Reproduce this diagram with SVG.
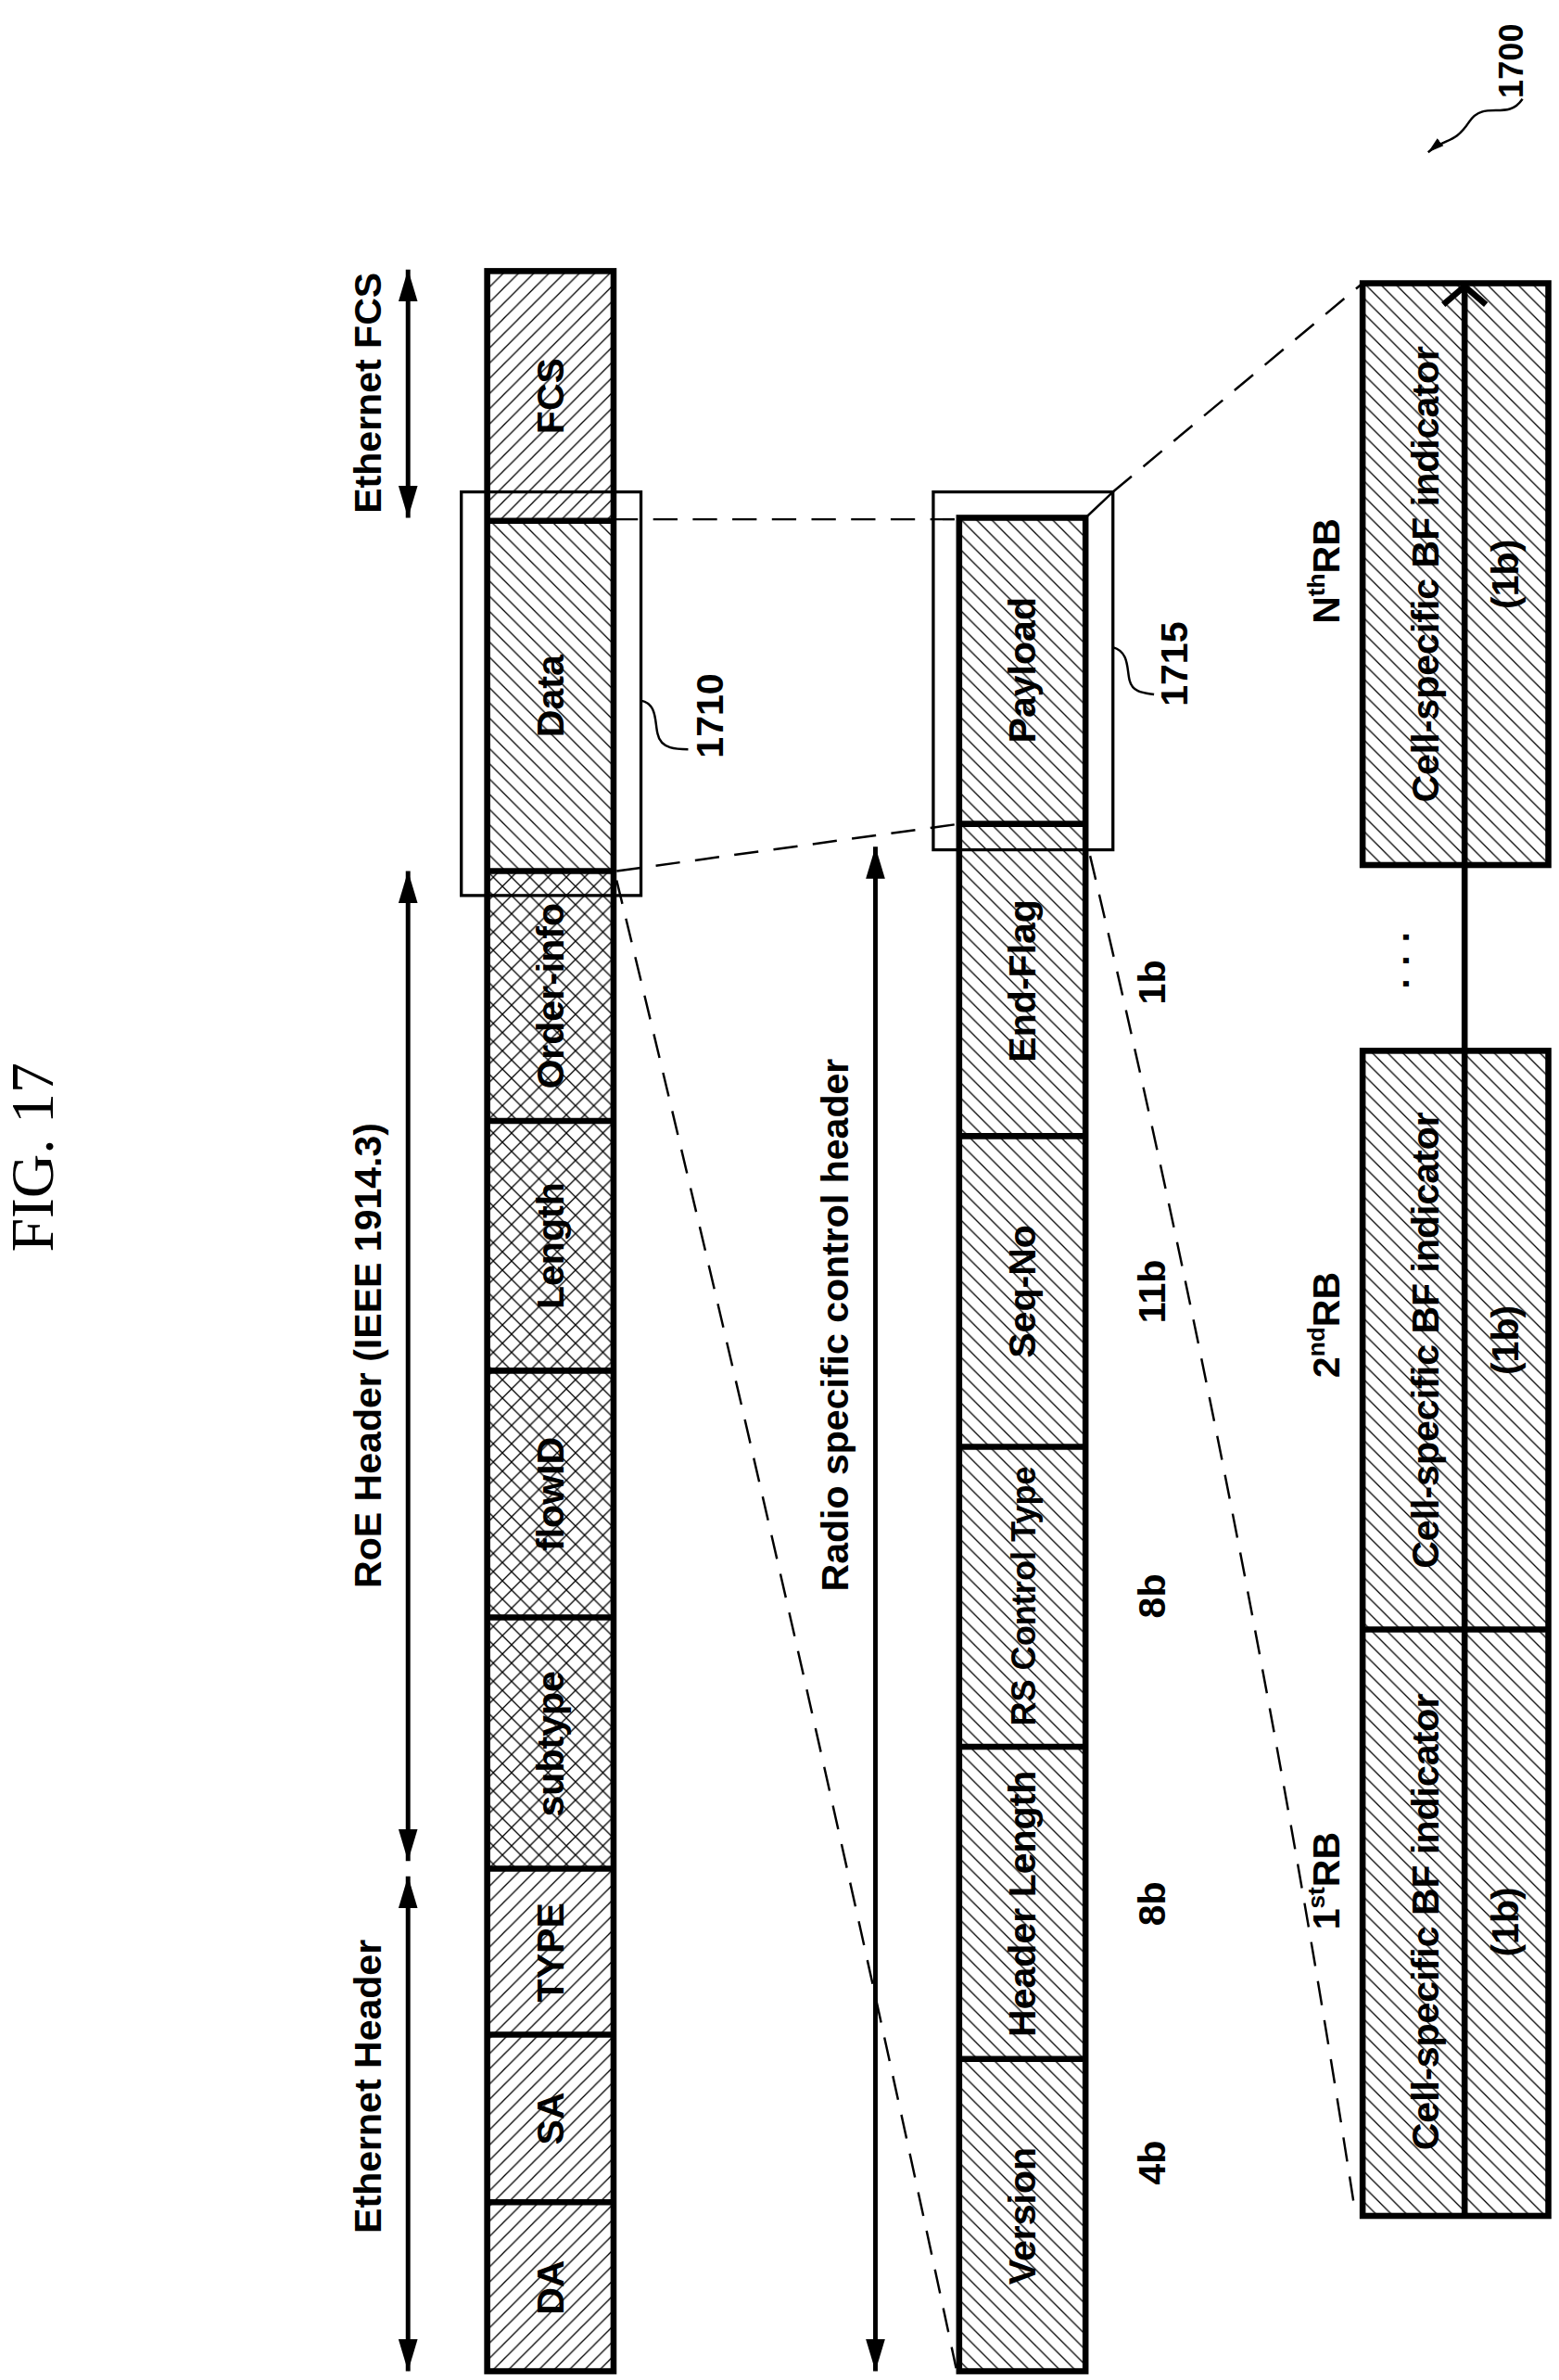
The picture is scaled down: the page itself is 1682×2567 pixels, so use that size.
<svg xmlns="http://www.w3.org/2000/svg" width="1682" height="2567" viewBox="0 0 1682 2567">
<style>
.b{fill:none;stroke:#000;stroke-width:4}
.t{font-family:"Liberation Sans Narrow","Liberation Sans",sans-serif;font-weight:bold;font-size:25px;fill:#000;text-anchor:middle}
.d{fill:none;stroke:#000;stroke-width:1.5;stroke-dasharray:16 10}
.l{fill:none;stroke:#000;stroke-width:1.5}
.a{stroke:#000;stroke-width:3;fill:none}
</style>
<defs>
<pattern id="h1" width="10" height="10" patternUnits="userSpaceOnUse"><path d="M-2 12L12 -2M-2 2L2 -2M8 12L12 8" stroke="#000" stroke-width="0.8"/></pattern>
<pattern id="h2" width="10" height="10" patternUnits="userSpaceOnUse"><path d="M-2 -2L12 12M-2 8L2 12M8 -2L12 2" stroke="#000" stroke-width="0.8"/></pattern>
<pattern id="hx" width="12" height="12" patternUnits="userSpaceOnUse"><path d="M-2 14L14 -2M-2 -2L14 14M-2 2L2 -2M10 14L14 10M-2 10L2 14M10 -2L14 2" stroke="#000" stroke-width="0.8"/></pattern>
<marker id="ar" viewBox="0 0 10 10" refX="10" refY="5" markerWidth="7" markerHeight="7" orient="auto-start-reverse"><path d="M0 2L10 5L0 8z" fill="#000"/></marker>
</defs>
<g transform="scale(1.6426)">
<text x="35" y="760" transform="rotate(-90 35 760)" style="font-family:'Liberation Serif',serif;font-size:40px;text-anchor:middle">FIG. 17</text>
<g id="ref1700"><text x="1000" y="40" transform="rotate(-90 1000 40)" class="t" style="font-size:22px">1700</text><path class="l" d="M1000 65 C990 80 975 65 965 80 C955 95 950 90 938 100" marker-end="url(#ar)"/></g>

<g id="top">
<rect x="320" y="178" width="83" height="164" fill="url(#h1)"/>
<rect x="320" y="342" width="83" height="230" fill="url(#h2)"/>
<rect x="320" y="572" width="83" height="656" fill="url(#hx)"/>
<rect x="320" y="1228" width="83" height="329" fill="url(#h1)"/>
<rect class="b" x="320" y="178" width="83" height="1379"/>
<path class="b" d="M320 342H403M320 572H403M320 736H403M320 900H403M320 1062H403M320 1227H403M320 1336H403M320 1446H403"/>
<g class="t">
<text x="370" y="260" transform="rotate(-90 370 260)">FCS</text>
<text x="370" y="457" transform="rotate(-90 370 457)">Data</text>
<text x="370" y="654" transform="rotate(-90 370 654)">Order-info</text>
<text x="370" y="818" transform="rotate(-90 370 818)">Length</text>
<text x="370" y="981" transform="rotate(-90 370 981)">flowID</text>
<text x="370" y="1145" transform="rotate(-90 370 1145)">subtype</text>
<text x="370" y="1282" transform="rotate(-90 370 1282)">TYPE</text>
<text x="370" y="1391" transform="rotate(-90 370 1391)">SA</text>
<text x="370" y="1502" transform="rotate(-90 370 1502)">DA</text>
</g>
<rect x="303" y="323" width="118" height="265" class="l" style="stroke-width:2"/>
<path class="l" d="M421 460C432 462 430 475 432 482C434 492 445 492 452 492"/>
<text class="t" x="475" y="470" transform="rotate(-90 475 470)">1710</text>
</g>

<g id="labelsTop" class="t">
<text x="250" y="258" transform="rotate(-90 250 258)">Ethernet FCS</text>
<text x="250" y="890" transform="rotate(-90 250 890)">RoE Header (IEEE 1914.3)</text>
<text x="250" y="1370" transform="rotate(-90 250 1370)">Ethernet Header</text>
<text x="557" y="870" transform="rotate(-90 557 870)">Radio specific control header</text>
</g>

<g id="mid">
<rect x="630" y="340" width="83" height="1217" fill="url(#h2)"/>
<rect class="b" x="630" y="340" width="83" height="1217"/>
<path class="b" d="M630 541H713M630 746H713M630 950H713M630 1147H713M630 1352H713"/>
<g class="t">
<text x="680" y="440" transform="rotate(-90 680 440)">Payload</text>
<text x="680" y="644" transform="rotate(-90 680 644)">End-Flag</text>
<text x="680" y="848" transform="rotate(-90 680 848)">Seq-No</text>
<text x="680" y="1048" transform="rotate(-90 680 1048)" style="font-size:22px">RS Control Type</text>
<text x="680" y="1250" transform="rotate(-90 680 1250)">Header Length</text>
<text x="680" y="1455" transform="rotate(-90 680 1455)">Version</text>
<text x="765" y="645" transform="rotate(-90 765 645)">1b</text>
<text x="765" y="848" transform="rotate(-90 765 848)">11b</text>
<text x="765" y="1048" transform="rotate(-90 765 1048)">8b</text>
<text x="765" y="1250" transform="rotate(-90 765 1250)">8b</text>
<text x="765" y="1420" transform="rotate(-90 765 1420)">4b</text>
</g>
<rect x="613" y="323" width="118" height="235" class="l" style="stroke-width:2"/>
<path class="l" d="M731 425C742 428 740 440 742 447C744 455 752 455 758 456"/>
<text class="t" x="780" y="436" transform="rotate(-90 780 436)">1715</text>
</g>

<g id="rb">
<rect x="895" y="186" width="122" height="382" fill="url(#h2)"/>
<rect x="895" y="690" width="122" height="765" fill="url(#h2)"/>
<rect class="b" x="895" y="186" width="122" height="382"/>
<rect class="b" x="895" y="690" width="122" height="765"/>
<path class="b" d="M895 1070H1017"/>
<g class="t">
<text x="945" y="377" transform="rotate(-90 945 377)">Cell-specific BF indicator</text>
<text x="945" y="880" transform="rotate(-90 945 880)">Cell-specific BF indicator</text>
<text x="945" y="1262" transform="rotate(-90 945 1262)">Cell-specific BF indicator</text>
<text x="997" y="377" transform="rotate(-90 997 377)">(1b)</text>
<text x="997" y="880" transform="rotate(-90 997 880)">(1b)</text>
<text x="997" y="1262" transform="rotate(-90 997 1262)">(1b)</text>
<text x="880" y="375" transform="rotate(-90 880 375)">N<tspan dy="-10" style="font-size:16px">th</tspan><tspan dy="10">RB</tspan></text>
<text x="880" y="870" transform="rotate(-90 880 870)">2<tspan dy="-10" style="font-size:16px">nd</tspan><tspan dy="10">RB</tspan></text>
<text x="880" y="1235" transform="rotate(-90 880 1235)">1<tspan dy="-10" style="font-size:16px">st</tspan><tspan dy="10">RB</tspan></text>
<text x="932" y="630" transform="rotate(-90 932 630)">· · ·</text>
</g>
</g>

<g id="connectors">
<path class="a" d="M268 340V177" marker-end="url(#ar)" marker-start="url(#ar)"/>
<path class="a" d="M268 1222V572" marker-end="url(#ar)" marker-start="url(#ar)"/>
<path class="a" d="M268 1557V1232" marker-end="url(#ar)" marker-start="url(#ar)"/>
<path class="a" d="M575 1557V556" marker-end="url(#ar)" marker-start="url(#ar)"/>
<path class="d" d="M403 341H630"/>
<path class="d" d="M405 572L630 541"/>
<path class="d" d="M405 578Q520 1050 628 1555"/>
<path class="l" d="M713 340L731 323"/>
<path class="d" d="M731 323L895 186"/>
<path class="d" d="M716 562Q820 1000 890 1452"/>
<path d="M962 1455V188" stroke="#000" stroke-width="4" fill="none"/>
<path d="M948 200L962 188L976 200" stroke="#000" stroke-width="4" fill="none"/>
</g>
</g>
</svg>
